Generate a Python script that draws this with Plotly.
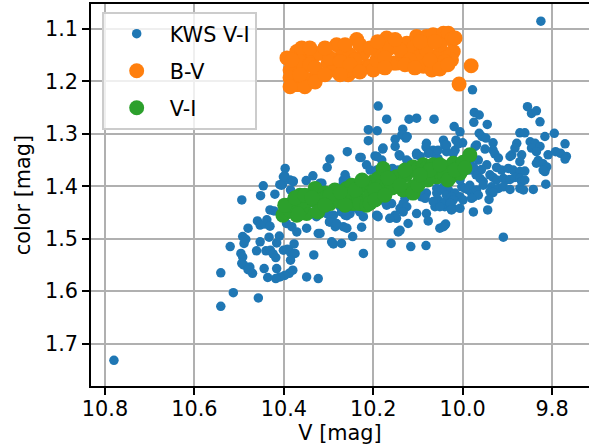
import plotly.graph_objects as go

# KWS V-I photometry: V magnitude and V-I colour
kws_v = [
    10.780, 9.825,
    10.397, 10.398, 10.386, 10.379, 10.350, 10.335, 10.446, 10.409, 10.403, 10.385, 10.452, 10.420, 10.494, 10.431,
    10.422, 10.394, 10.459, 10.438, 10.453, 10.442, 10.431, 10.480, 10.382, 10.371, 10.349, 10.323, 10.492, 10.485,
    10.489, 10.433, 10.410, 10.520, 10.453, 10.416, 10.377, 10.461, 10.440, 10.430, 10.424, 10.401, 10.392, 10.386,
    10.375, 10.418, 10.496, 10.492, 10.494, 10.490, 10.385, 10.476, 10.480, 10.470, 10.444, 10.416, 10.380, 10.388,
    10.398, 10.409, 10.418, 10.436, 10.333, 10.349, 10.323, 10.541, 10.513, 10.457, 10.541,
    10.189, 10.170, 10.120, 10.103, 10.064, 10.211, 10.191, 10.134, 10.136, 10.127, 10.124, 10.151, 10.211, 10.081,
    10.082, 10.043, 10.040, 10.179, 10.258, 10.103, 10.095, 10.066, 10.062, 10.055, 10.230, 10.297, 10.303, 10.196,
    10.181, 10.140, 10.122, 10.215, 10.207, 10.157, 10.144, 10.261, 10.267, 10.315, 10.289, 10.230, 10.196, 10.178,
    10.058, 10.043, 10.032, 10.092, 10.081, 10.055, 10.062, 10.040, 10.185, 10.170, 10.159, 10.129, 10.140, 10.133,
    10.192, 10.148, 10.081, 10.077, 10.312, 10.304, 10.293, 10.298, 10.274, 10.263, 10.252, 10.285, 10.267, 10.259,
    10.226, 10.246, 10.140, 10.144, 10.122, 10.051, 10.040, 10.293, 10.289, 10.271, 10.160, 10.116, 10.082, 10.222,
    10.319, 10.319,
    9.978, 9.855, 9.846, 9.835, 9.974, 9.963, 9.975, 9.945, 9.827, 10.019, 10.006, 9.872, 9.861, 9.963,
    9.957, 9.948, 9.795, 9.816, 10.015, 10.000, 9.932, 9.879, 9.883, 9.849, 9.838, 9.846, 9.771, 9.972,
    9.827, 9.835, 9.950, 9.932, 9.928, 9.920, 9.890, 9.894, 9.868, 9.809, 9.792, 9.781, 9.768, 9.771,
    10.036, 10.017, 9.872, 9.831, 9.835, 9.820, 9.812, 9.816, 9.820, 9.946, 9.958, 9.965, 9.924, 9.913,
    9.898, 9.887, 9.872, 9.861, 9.939, 9.932, 9.924, 9.909, 9.902, 9.894, 9.883, 9.872, 9.868, 9.861,
    9.970, 9.961, 9.954, 9.984, 10.006, 10.002, 9.987, 9.980, 9.976, 9.954, 9.935, 9.920, 9.909, 9.894,
    9.872, 9.864, 9.842, 9.814, 9.939, 9.932, 10.017, 10.006, 10.036, 10.043, 10.025, 9.941, 10.021, 9.976,
    9.944, 10.038, 10.043, 9.909,
    10.227, 10.192, 10.192, 10.401, 10.379, 10.405, 10.319, 10.267, 10.263, 10.382, 10.394, 10.327, 10.289, 10.271,
    10.259, 10.222, 10.192, 10.237, 10.230, 10.297, 10.282,
    10.178, 10.142, 10.151, 10.103, 10.125, 10.077, 10.055, 10.036, 10.010, 10.021, 9.988, 9.969, 9.965, 9.984,
    9.976, 10.163, 10.006, 9.984, 9.995, 9.969, 9.965, 9.980, 9.999, 10.178, 10.174, 10.200, 10.095, 10.084,
    10.066, 10.058, 10.047, 10.036, 10.025, 10.021, 10.028, 10.125, 10.133, 10.103, 10.051, 10.025, 10.151, 10.006,
    10.189, 10.163,
    10.364, 10.330, 10.286, 10.241, 10.174, 10.129, 10.084, 10.040, 10.342, 10.252, 10.140,
]
kws_vi = [
    1.732, 1.085,
    1.366, 1.380, 1.388, 1.391, 1.389, 1.380, 1.399, 1.397, 1.396, 1.407, 1.418, 1.415, 1.426, 1.445,
    1.447, 1.471, 1.466, 1.464, 1.474, 1.472, 1.476, 1.480, 1.477, 1.487, 1.480, 1.490, 1.496, 1.501,
    1.509, 1.497, 1.495, 1.515, 1.506, 1.508, 1.510, 1.523, 1.523, 1.522, 1.529, 1.522, 1.520, 1.525,
    1.528, 1.536, 1.528, 1.535, 1.547, 1.550, 1.541, 1.554, 1.559, 1.566, 1.557, 1.557, 1.560, 1.566,
    1.570, 1.573, 1.576, 1.574, 1.531, 1.573, 1.576, 1.565, 1.603, 1.613, 1.629,
    1.247, 1.272, 1.272, 1.270, 1.272, 1.292, 1.294, 1.291, 1.302, 1.308, 1.305, 1.310, 1.313, 1.318,
    1.325, 1.312, 1.321, 1.329, 1.334, 1.337, 1.343, 1.331, 1.340, 1.347, 1.345, 1.348, 1.364, 1.342,
    1.350, 1.342, 1.353, 1.359, 1.369, 1.366, 1.369, 1.385, 1.394, 1.394, 1.407, 1.388, 1.407, 1.413,
    1.404, 1.401, 1.407, 1.420, 1.413, 1.426, 1.439, 1.439, 1.426, 1.436, 1.433, 1.423, 1.442, 1.433,
    1.455, 1.461, 1.452, 1.466, 1.439, 1.452, 1.458, 1.468, 1.439, 1.455, 1.452, 1.477, 1.477, 1.480,
    1.478, 1.496, 1.484, 1.487, 1.471, 1.480, 1.474, 1.506, 1.510, 1.509, 1.509, 1.515, 1.513, 1.528,
    1.407, 1.490,
    1.216, 1.248, 1.261, 1.256, 1.259, 1.264, 1.278, 1.282, 1.277, 1.286, 1.296, 1.298, 1.298, 1.299,
    1.305, 1.308, 1.299, 1.305, 1.312, 1.317, 1.317, 1.318, 1.327, 1.315, 1.318, 1.327, 1.319, 1.324,
    1.324, 1.334, 1.329, 1.331, 1.338, 1.346, 1.340, 1.343, 1.340, 1.340, 1.334, 1.337, 1.343, 1.348,
    1.334, 1.331, 1.353, 1.351, 1.356, 1.357, 1.363, 1.372, 1.369, 1.359, 1.368, 1.372, 1.364, 1.369,
    1.366, 1.369, 1.372, 1.371, 1.378, 1.383, 1.388, 1.385, 1.388, 1.387, 1.383, 1.385, 1.391, 1.388,
    1.378, 1.385, 1.391, 1.369, 1.385, 1.401, 1.407, 1.413, 1.420, 1.398, 1.401, 1.404, 1.401, 1.406,
    1.404, 1.407, 1.406, 1.396, 1.410, 1.412, 1.413, 1.420, 1.426, 1.433, 1.429, 1.425, 1.442, 1.449,
    1.445, 1.472, 1.477, 1.497,
    1.345, 1.343, 1.369, 1.382, 1.390, 1.398, 1.394, 1.388, 1.378, 1.426, 1.433, 1.458, 1.455, 1.449,
    1.456, 1.458, 1.456, 1.442, 1.449, 1.468, 1.471,
    1.327, 1.340, 1.324, 1.340, 1.350, 1.337, 1.331, 1.321, 1.319, 1.337, 1.340, 1.321, 1.350, 1.356,
    1.363, 1.372, 1.388, 1.398, 1.404, 1.407, 1.417, 1.423, 1.426, 1.417, 1.429, 1.420, 1.413, 1.423,
    1.429, 1.413, 1.407, 1.417, 1.420, 1.426, 1.433, 1.439, 1.449, 1.452, 1.439, 1.445, 1.455, 1.442,
    1.458, 1.461,
    1.420, 1.410, 1.410, 1.400, 1.390, 1.380, 1.370, 1.368, 1.432, 1.420, 1.395,
]

# B-V colour against V
bv_v = [
    10.393, 10.386, 10.379, 10.375, 10.368, 10.371, 10.357, 10.371, 10.360, 10.357, 10.342, 10.334, 10.319, 10.319,
    10.301, 10.289, 10.282, 10.271, 10.252, 10.256, 10.259, 10.237, 10.222, 10.215, 10.207, 10.200, 10.192, 10.185,
    10.170, 10.163, 10.155, 10.148, 10.133, 10.125, 10.103, 10.110, 10.095, 10.088, 10.069, 10.081, 10.066, 10.043,
    10.032, 10.025, 10.021, 10.025, 10.043, 10.058, 10.081, 10.008, 9.981,
    10.364, 10.342, 10.297, 10.274, 10.241, 10.230, 10.174, 10.140, 10.118, 10.073, 10.051, 10.040, 10.330, 10.386,
    10.382, 10.386, 10.353, 10.364, 10.330, 10.308, 10.308, 10.263, 10.252, 10.230, 10.207, 10.190, 10.174, 10.151,
    10.129, 10.107, 10.095, 10.051, 10.033, 10.017, 10.062, 10.342, 10.274,
]
bv_color = [
    1.155, 1.178, 1.197, 1.206, 1.206, 1.178, 1.146, 1.143, 1.136, 1.191, 1.197, 1.152, 1.146, 1.187,
    1.165, 1.178, 1.130, 1.152, 1.149, 1.187, 1.178, 1.120, 1.146, 1.171, 1.171, 1.178, 1.159, 1.143,
    1.117, 1.136, 1.165, 1.165, 1.152, 1.127, 1.114, 1.136, 1.152, 1.171, 1.178, 1.114, 1.111, 1.108,
    1.108, 1.120, 1.143, 1.159, 1.146, 1.152, 1.140, 1.205, 1.170,
    1.162, 1.168, 1.155, 1.162, 1.159, 1.130, 1.155, 1.140, 1.159, 1.159, 1.130, 1.162, 1.174, 1.193,
    1.159, 1.210, 1.210, 1.187, 1.201, 1.187, 1.136, 1.130, 1.168, 1.182, 1.136, 1.124, 1.174, 1.120,
    1.168, 1.174, 1.124, 1.176, 1.168, 1.117, 1.124, 1.136, 1.187,
]

# V-I colour against V
vi_v = [
    10.402, 10.394, 10.379, 10.371, 10.364, 10.349, 10.330, 10.319, 10.308, 10.304, 10.297, 10.282, 10.274, 10.259,
    10.256, 10.248, 10.245, 10.237, 10.230, 10.230, 10.215, 10.215, 10.207, 10.207, 10.200, 10.189, 10.185, 10.178,
    10.170, 10.148, 10.148, 10.133, 10.111, 10.111, 10.111, 10.103, 10.088, 10.081, 10.081, 10.066, 10.058, 10.043,
    10.028, 10.028, 10.021, 10.006, 9.984, 10.207, 10.386, 10.342, 10.324, 10.286, 10.360, 10.163, 10.127, 10.095,
    10.040, 10.010, 9.999, 10.364, 10.391, 10.265, 10.196, 10.158, 10.078,
    10.398, 10.375, 10.353, 10.337, 10.368, 10.324, 10.297, 10.263, 10.241, 10.225, 10.196, 10.174, 10.167, 10.140,
    10.129, 10.100, 10.073, 10.051, 10.033, 10.017, 9.995, 10.095, 10.274, 10.308,
]
vi_color = [
    1.455, 1.449, 1.439, 1.455, 1.417, 1.452, 1.404, 1.439, 1.413, 1.420, 1.433, 1.426, 1.429, 1.404,
    1.413, 1.398, 1.433, 1.417, 1.433, 1.401, 1.398, 1.436, 1.417, 1.394, 1.391, 1.385, 1.401, 1.366,
    1.401, 1.388, 1.382, 1.407, 1.401, 1.413, 1.363, 1.369, 1.359, 1.366, 1.375, 1.359, 1.382, 1.363,
    1.366, 1.382, 1.356, 1.375, 1.340, 1.432, 1.445, 1.426, 1.426, 1.407, 1.442, 1.388, 1.378, 1.388,
    1.378, 1.365, 1.354, 1.432, 1.436, 1.419, 1.407, 1.403, 1.388,
    1.436, 1.422, 1.417, 1.422, 1.453, 1.449, 1.417, 1.436, 1.407, 1.388, 1.426, 1.417, 1.384, 1.398,
    1.369, 1.398, 1.369, 1.359, 1.388, 1.369, 1.365, 1.378, 1.411, 1.436,
]

x_ticks = [10.8, 10.6, 10.4, 10.2, 10.0, 9.8]
y_ticks = [1.1, 1.2, 1.3, 1.4, 1.5, 1.6, 1.7]

FONT = "DejaVu Sans"
FS = 20.8
LW = 1.67

fig = go.Figure()
fig.add_trace(go.Scatter(x=kws_v, y=kws_vi, mode="markers", name="KWS V-I",
                         marker=dict(color="#1f77b4", size=9.5, line=dict(width=0))))
fig.add_trace(go.Scatter(x=bv_v, y=bv_color, mode="markers", name="B-V",
                         marker=dict(color="#ff7f0e", size=15, line=dict(width=0))))
fig.add_trace(go.Scatter(x=vi_v, y=vi_color, mode="markers", name="V-I",
                         marker=dict(color="#2ca02c", size=15, line=dict(width=0))))

axis_common = dict(
    showgrid=True, gridcolor="#b0b0b0", gridwidth=LW,
    showline=True, linecolor="black", linewidth=LW,
    ticks="outside", ticklen=7, tickwidth=LW, tickcolor="black",
    zeroline=False, tickformat=".1f",
    tickfont=dict(family=FONT, size=FS, color="black"),
)

fig.update_layout(
    width=589, height=448,
    margin=dict(l=91, r=0, t=4, b=62),
    paper_bgcolor="white", plot_bgcolor="white",
    font=dict(family=FONT, size=FS, color="black"),
    xaxis=dict(range=[10.8313, 9.7174], tickvals=x_ticks, mirror=True,
               ticklabelstandoff=-4,
               title=dict(text="V [mag]", font=dict(family=FONT, size=FS), standoff=4),
               **axis_common),
    yaxis=dict(range=[1.781, 1.0522], tickvals=y_ticks,
               title=dict(text="color [mag]", font=dict(family=FONT, size=FS), standoff=9),
               **axis_common),
    legend=dict(x=0.0221, y=0.979, xanchor="left", yanchor="top",
                bgcolor="rgba(255,255,255,0.8)", bordercolor="#cccccc", borderwidth=LW,
                font=dict(family=FONT, size=FS, color="black"),
                tracegroupgap=7, itemwidth=56),
    showlegend=True,
)
for i, tr in enumerate(fig.data):
    tr.legendgroup = f"g{i}"

fig.write_html("out.html")
